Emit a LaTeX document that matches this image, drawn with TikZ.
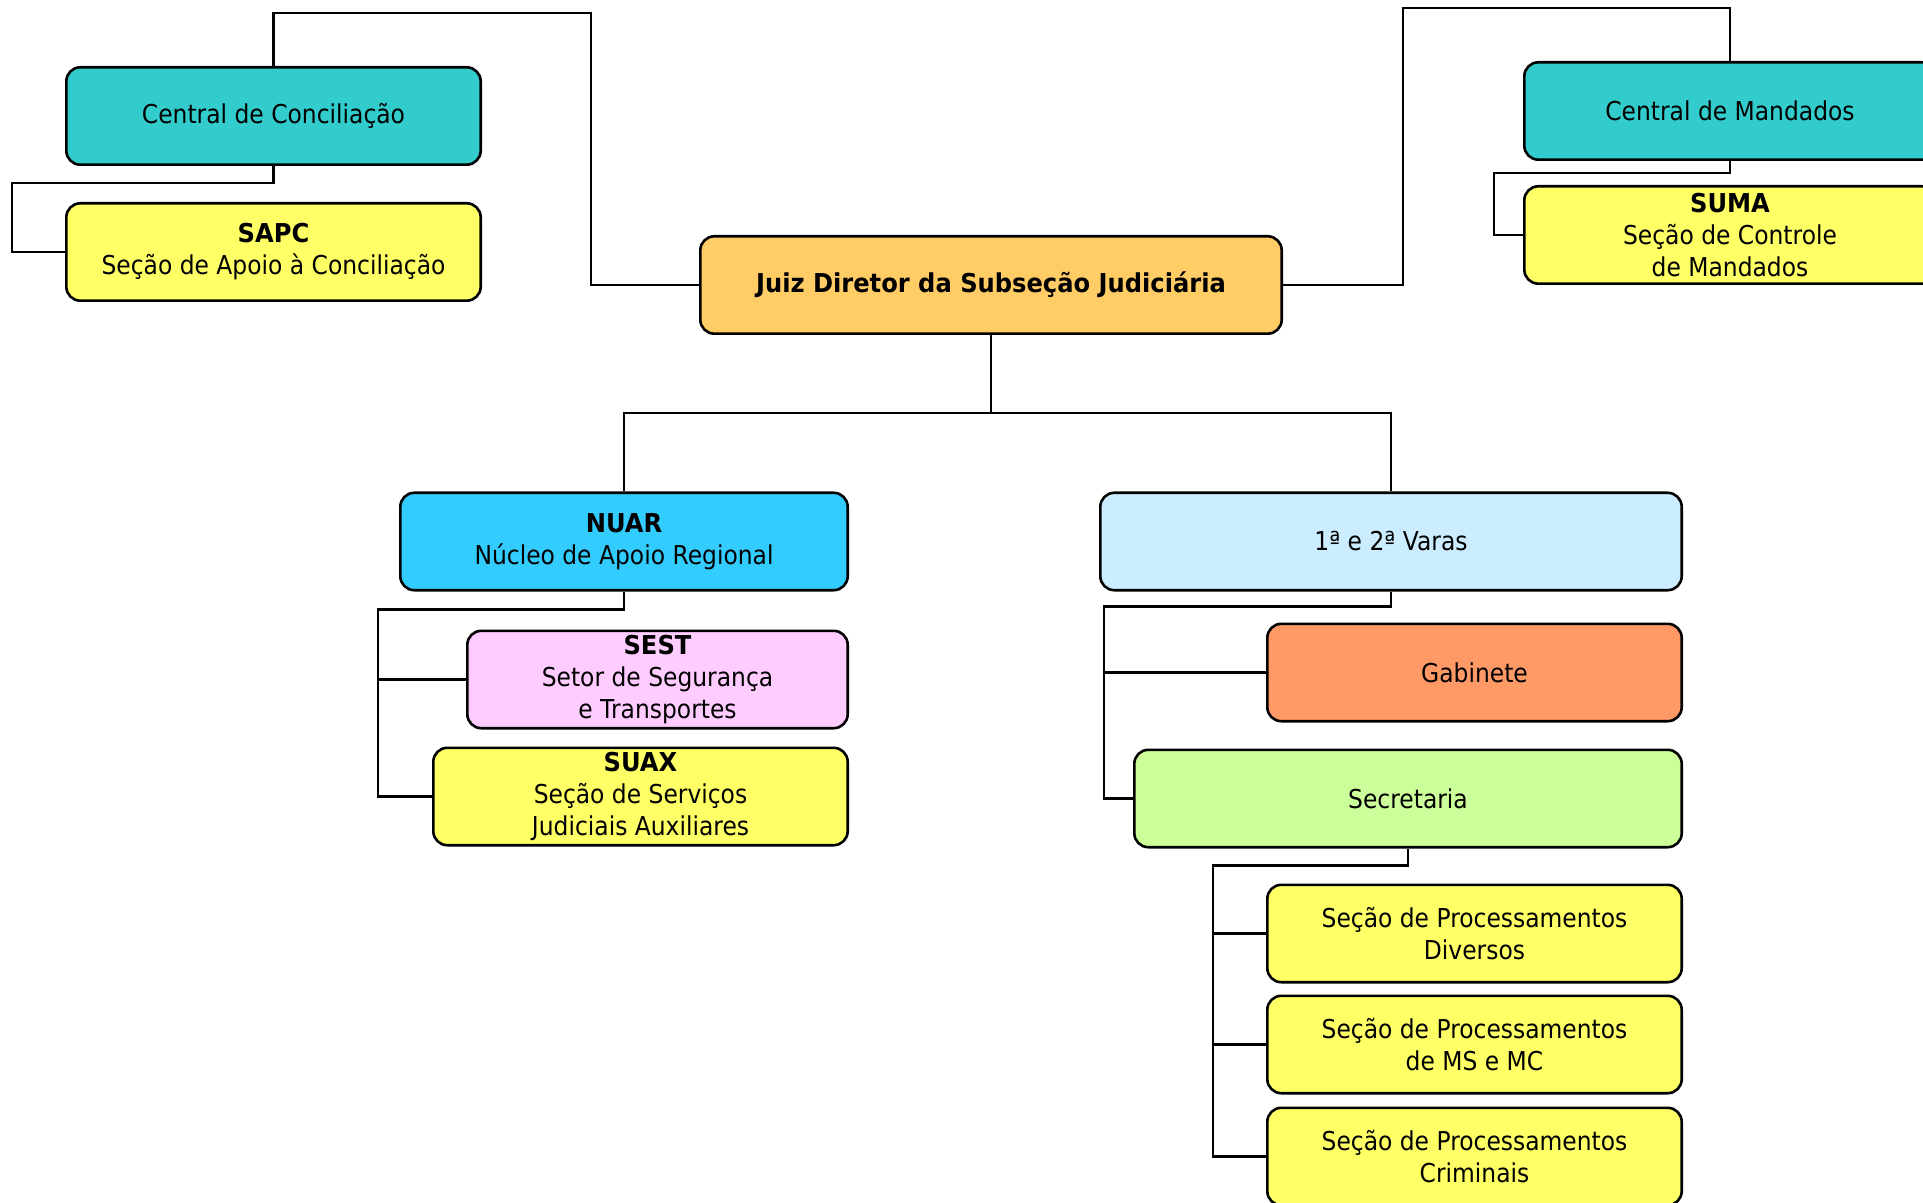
\documentclass[tikz,border=0pt]{standalone}
\usepackage{fontspec}
\setmainfont{DejaVu Sans}[FakeStretch=0.9, BoldFeatures={FakeStretch=0.93}]
\usetikzlibrary{positioning}
\definecolor{orgTeal}{HTML}{33CCCC}
\definecolor{orgYellow}{HTML}{FFFF66}
\definecolor{orgGold}{HTML}{FFCC66}
\definecolor{orgCyan}{HTML}{33CCFF}
\definecolor{orgSky}{HTML}{CCECFF}
\definecolor{orgPink}{HTML}{FFCCFF}
\definecolor{orgSalmon}{HTML}{FF9966}
\definecolor{orgLime}{HTML}{CCFF99}
\tikzset{
  caixa/.style={draw=black, line width=1.3pt, rounded corners=7pt, align=center, font=\fontsize{13}{16}\selectfont, minimum height=48.7pt, inner sep=0pt, fill=#1},
  caixa/.default=white,
  ligacao/.style={line width=1.3pt},
}

\begin{document}
\begin{tikzpicture}[x=0.5pt, y=-0.5pt]
\useasboundingbox (0,0) rectangle (1923,1203);
\node[caixa=orgGold, minimum width=290.7pt, font=\bfseries\fontsize{13}{16}\selectfont] (juiz) at (991,285) {Juiz Diretor da Subseção Judiciária};
\node[caixa=orgTeal, minimum width=207.2pt] (cc) at (273.5,116) {Central de Conciliação};
\node[caixa=orgYellow, minimum width=207.2pt, below=18pt of cc] (sapc) {\textbf{SAPC}\\Seção de Apoio à Conciliação};
\node[caixa=orgTeal, minimum width=205.7pt] (cm) at (1730,111) {Central de Mandados};
\node[caixa=orgYellow, minimum width=205.7pt, below=12pt of cm] (suma) {\textbf{SUMA}\\Seção de Controle\\de Mandados};
\node[caixa=orgCyan, minimum width=223.7pt] (nuar) at (624,541.5) {\textbf{NUAR}\\Núcleo de Apoio Regional};
\node[caixa=orgPink, minimum width=190.2pt, below=19pt of nuar.south east, anchor=north east] (sest) {\textbf{SEST}\\Setor de Segurança\\e Transportes};
\node[caixa=orgYellow, minimum width=207.2pt, below=8.5pt of sest.south east, anchor=north east] (suax) {\textbf{SUAX}\\Seção de Serviços\\Judiciais Auxiliares};
\node[caixa=orgSky, minimum width=290.7pt] (varas) at (1391,541.5) {1ª e 2ª Varas};
\node[caixa=orgSalmon, minimum width=207.2pt, below=15.5pt of varas.south east, anchor=north east] (gab) {Gabinete};
\node[caixa=orgLime, minimum width=273.7pt, below=13pt of gab.south east, anchor=north east] (sec) {Secretaria};
\node[caixa=orgYellow, minimum width=207.2pt, below=17.5pt of sec.south east, anchor=north east] (spd) {Seção de Processamentos\\Diversos};
\node[caixa=orgYellow, minimum width=207.2pt, below=5.5pt of spd] (spms) {Seção de Processamentos\\de MS e MC};
\node[caixa=orgYellow, minimum width=207.2pt, below=6pt of spms] (spc) {Seção de Processamentos\\Criminais};

% ligacoes do juiz
\draw[ligacao] (juiz.south) -- ([yshift=-39pt]juiz.south) coordinate (jb);
\draw[ligacao] (nuar.north) |- (jb) -| (varas.north);
\draw[ligacao] (juiz.west) -- ++(-108,0) |- ([yshift=26.5pt]cc.north) -- (cc.north);
\draw[ligacao] (juiz.east) -- ++(120,0) |- ([yshift=26.5pt]cm.north) -- (cm.north);
% centrais
\draw[ligacao] (cc.south) -- ++(0,17) -| ([xshift=-26.5pt]sapc.west) -- (sapc.west);
\draw[ligacao] (cm.south) -- ++(0,12) -| ([xshift=-14.5pt]suma.west) -- (suma.west);
% nucleo e varas
\draw[ligacao] (nuar.south) -- ++(0,18) -| ([xshift=-44pt]sest.west) |- (suax.west);
\draw[ligacao] ([xshift=-44pt]sest.west) -- (sest.west);
\draw[ligacao] (varas.south) -- ++(0,15) -| ([xshift=-81pt]gab.west) |- (sec.west);
\draw[ligacao] ([xshift=-81pt]gab.west) -- (gab.west);
\draw[ligacao] (sec.south) -- ++(0,17) -| ([xshift=-26.5pt]spd.west) |- (spc.west);
\draw[ligacao] ([xshift=-26.5pt]spd.west) -- (spd.west);
\draw[ligacao] ([xshift=-26.5pt]spms.west) -- (spms.west);
\end{tikzpicture}
\end{document}
